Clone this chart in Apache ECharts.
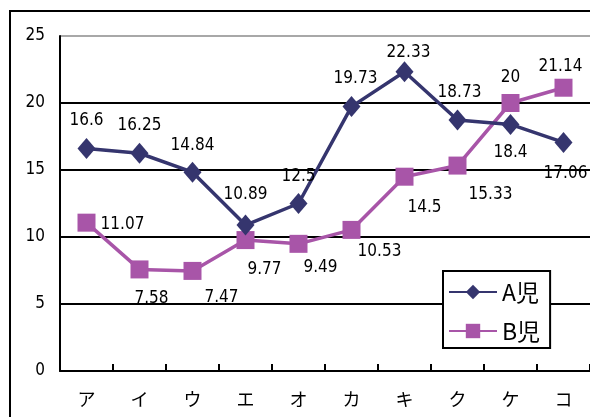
<!DOCTYPE html>
<html>
<head>
<meta charset="utf-8">
<script src="https://cdn.jsdelivr.net/npm/echarts@6/dist/echarts.min.js"></script>
<style>
  html, body { margin: 0; padding: 0; background: #fff; }
  #chart { width: 590px; height: 417px; }
</style>
</head>
<body>
<div id="chart"></div>
<script>
// Categories and the two children's scores
const categories = ['ア', 'イ', 'ウ', 'エ', 'オ', 'カ', 'キ', 'ク', 'ケ', 'コ'];
const seriesNames = ['A児', 'B児'];
const valuesA = [16.6, 16.25, 14.84, 10.89, 12.5, 19.73, 22.33, 18.73, 18.4, 17.06];
const valuesB = [11.07, 7.58, 7.47, 9.77, 9.49, 10.53, 14.5, 15.33, 20, 21.14];
const yTicks = [0, 5, 10, 15, 20, 25];

// Where each value label sits relative to its marker (dx, dy in px)
const labelShiftA = [[0, -28], [0, -28], [0, -27], [0, -30], [0, -27], [4, -28], [4, -19], [2, -27], [0, 28], [2, 31]];
const labelShiftB = [[36, 2], [12, 29], [29, 27], [19, 29], [22, 24], [28, 22], [20, 31], [33, 29], [0, -25], [-3, -21]];

const numFont = '"DejaVu Sans Condensed", "Liberation Sans", Arial, sans-serif';
const jpFont = '"Noto Sans CJK JP", "Noto Sans", sans-serif';

function buildData(values, shifts) {
  return values.map((v, i) => ({
    value: v,
    label: { offset: shifts[i] }
  }));
}

const chart = echarts.init(document.getElementById('chart'), null, { renderer: 'canvas' });

chart.setOption({
  animation: false,
  backgroundColor: '#fff',
  graphic: [{
    type: 'rect',
    shape: { x: 10, y: 11, width: 620, height: 440 },
    style: { fill: 'none', stroke: '#000', lineWidth: 2 },
    silent: true,
    z: 100
  }],
  grid: { left: 60, top: 36, right: -3, bottom: 46, containLabel: false },
  xAxis: {
    type: 'category',
    data: categories,
    boundaryGap: true,
    axisLine: { lineStyle: { color: '#000', width: 2 } },
    axisTick: { show: true, inside: true, length: 7, lineStyle: { color: '#000', width: 2 } },
    axisLabel: { color: '#000', fontFamily: jpFont, fontSize: 18, margin: 19 },
    splitLine: { show: false }
  },
  yAxis: {
    type: 'value',
    min: yTicks[0],
    max: yTicks[yTicks.length - 1],
    interval: yTicks[1] - yTicks[0],
    axisLine: { show: true, lineStyle: { color: '#000', width: 2 } },
    axisTick: { show: false },
    axisLabel: { color: '#000', fontFamily: numFont, fontSize: 17, margin: 15 },
    splitLine: { show: true, lineStyle: { color: ['#000', '#000', '#000', '#000', '#000', '#a8a8a8'], width: 2 } }
  },
  legend: {
    orient: 'vertical',
    left: 443,
    top: 271,
    backgroundColor: '#fff',
    borderColor: '#000',
    borderWidth: 2,
    borderRadius: 0,
    padding: [8, 10, 4, 5],
    itemWidth: 48,
    itemHeight: 18,
    itemGap: 13,
    textStyle: { color: '#000', fontFamily: jpFont, fontSize: 23, lineHeight: 26 },
    data: seriesNames
  },
  series: [
    {
      name: seriesNames[0],
      type: 'line',
      data: buildData(valuesA, labelShiftA),
      color: '#35356e',
      lineStyle: { width: 3.5, color: '#35356e' },
      symbol: 'diamond',
      symbolSize: [18, 21],
      itemStyle: { color: '#35356e' },
      label: {
        show: true,
        position: 'inside',
        align: 'center',
        verticalAlign: 'middle',
        color: '#000',
        fontFamily: numFont,
        fontSize: 17
      },
      z: 3
    },
    {
      name: seriesNames[1],
      type: 'line',
      data: buildData(valuesB, labelShiftB),
      color: '#a855a8',
      lineStyle: { width: 3.5, color: '#a855a8' },
      symbol: 'rect',
      symbolSize: 18,
      itemStyle: { color: '#a855a8' },
      label: {
        show: true,
        position: 'inside',
        align: 'center',
        verticalAlign: 'middle',
        color: '#000',
        fontFamily: numFont,
        fontSize: 17
      },
      z: 2
    }
  ]
});
</script>
</body>
</html>
